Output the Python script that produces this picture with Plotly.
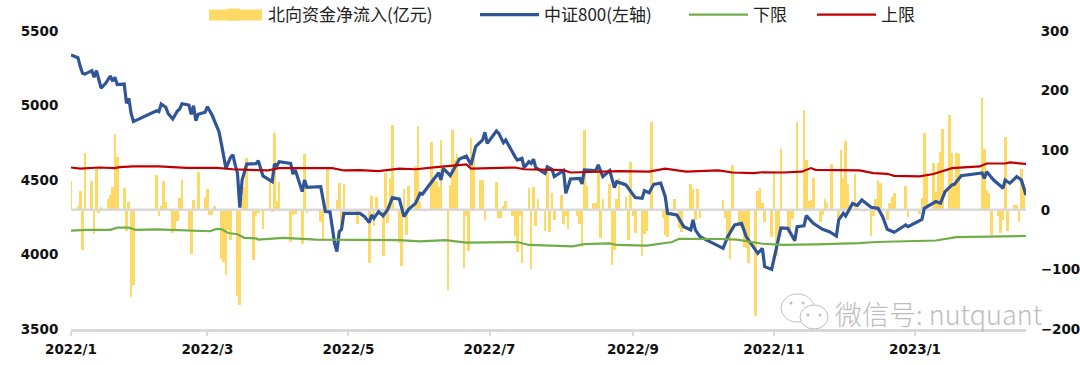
import pandas as pd
import plotly.graph_objects as go

START = pd.Timestamp("2022-01-04")
END = pd.Timestamp("2023-02-21")

flow_days = [0,3,4,5,6,9,10,11,12,13,16,17,18,19,20,23,24,25,26,27,37,38,39,40,41,44,45,46,47,48,51,52,53,55,58,59,60,61,62,65,66,67,68,69,72,73,74,75,76,79,80,81,83,86,87,88,89,90,95,96,97,100,101,102,108,109,111,115,116,117,118,124,129,130,131,132,135,136,137,138,139,142,143,144,145,146,149,150,151,156,157,158,159,160,163,164,165,166,167,170,171,172,173,174,177,178,179,184,185,186,187,188,191,192,193,194,195,198,199,200,201,202,205,206,207,208,209,212,213,214,215,219,220,221,222,223,226,227,228,229,230,233,234,235,236,237,240,241,242,243,244,247,248,249,251,256,257,258,261,263,264,268,269,270,271,272,282,283,284,285,286,289,290,291,292,293,296,297,298,299,300,303,304,305,306,307,310,311,312,314,317,318,319,320,321,324,325,326,327,329,332,333,334,335,336,339,340,343,346,347,348,349,350,353,354,355,356,361,362,367,368,369,370,373,374,375,376,377,380,381,382,383,384,394,395,396,397,398,401,402,403,404,405,408,409,410,411,412]
flow_vals = [48,6,32,-67,95,49,-41,69,-6,4,18,25,39,127,89,36,-35,13,-146,-126,58,-10,6,48,13,-39,-34,-18,20,50,-34,-74,16,64,21,35,-8,-8,7,-83,-87,-110,-34,-50,-144,-160,20,39,87,-84,-11,-5,-32,48,-4,129,14,46,-54,-8,-7,-58,93,-6,-20,-53,68,17,45,-34,44,-24,-89,24,-28,22,-78,62,-22,53,143,-56,-95,35,-42,40,73,140,14,114,50,48,38,117,-135,42,134,84,93,-97,-11,-69,121,95,50,50,-17,46,-14,-14,7,14,-11,-44,-70,-11,-89,36,-100,38,-28,18,-35,64,-38,28,-17,25,-24,-11,-32,-11,-23,-63,134,40,11,11,67,-47,18,44,-92,-67,18,53,22,-50,80,-10,-39,-77,-40,-36,148,-14,-42,-46,18,-31,-38,44,35,-17,35,-14,17,-14,-48,-83,75,-28,-30,-62,-64,-89,-179,31,36,11,-21,-45,62,-78,-50,102,-39,-39,-15,148,168,83,14,17,53,-21,-8,18,11,77,-14,100,53,116,44,60,3,-4,-44,-11,18,50,45,-17,12,21,29,40,-12,-7,20,129,62,78,30,78,97,135,159,95,40,95,94,187,102,34,28,-43,-11,-39,-17,122,-35,8,8,-20,69,42]

close_days = [0,2,3,4,5,6,8,9,10,11,12,13,15,17,18,19,20,23,24,25,26,27,37,38,39,41,42,44,46,47,48,51,52,53,54,55,58,59,61,64,65,67,69,70,71,72,73,74,76,80,81,83,87,88,89,90,95,96,97,100,101,102,108,110,112,114,115,116,117,118,125,127,129,130,131,133,135,137,139,142,144,146,149,151,152,156,159,160,161,164,167,168,171,173,175,178,179,180,184,185,187,188,192,193,195,196,198,199,200,201,205,206,208,209,213,214,216,220,221,222,227,228,230,233,235,236,240,244,247,248,250,252,255,257,258,262,265,268,269,270,272,280,282,284,287,290,292,294,297,299,300,303,307,310,313,314,317,318,321,325,328,331,332,334,335,338,340,342,346,349,351,353,356,361,362,368,369,374,376,378,381,382,385,394,395,396,399,402,403,404,406,409,411,413]
close_vals = [5339,5328,5321,5261,5216,5211,5229,5234,5189,5234,5176,5117,5149,5198,5164,5189,5140,5144,5015,5048,4947,4892,4965,4959,5010,4988,4947,4909,4963,4977,5012,5003,4941,4999,4898,4941,4955,4992,4936,4824,4746,4578,4652,4668,4601,4545,4314,4500,4607,4610,4630,4527,4489,4607,4594,4623,4612,4540,4567,4422,4500,4451,4455,4288,4286,4075,4019,4153,4169,4276,4276,4254,4214,4265,4243,4288,4259,4303,4382,4372,4254,4303,4343,4411,4406,4489,4549,4500,4578,4529,4612,4641,4661,4601,4724,4769,4820,4746,4829,4813,4751,4769,4657,4634,4645,4583,4623,4612,4639,4583,4545,4589,4572,4523,4563,4411,4507,4511,4473,4567,4563,4601,4523,4563,4449,4489,4467,4382,4377,4428,4415,4471,4480,4388,4276,4265,4187,4165,4232,4165,4120,4053,4041,4120,4198,4209,4120,4075,4008,4041,3918,3900,4178,4176,4093,4187,4192,4261,4209,4169,4153,4124,4232,4276,4259,4343,4328,4366,4317,4310,4254,4169,4149,4198,4187,4236,4310,4355,4344,4422,4467,4471,4529,4547,4511,4556,4500,4460,4444,4500,4478,4523,4500,4399]

upper_days = [0,4,12,19,21,27,38,50,63,70,85,90,113,118,125,133,142,149,158,171,173,192,196,213,216,226,237,250,257,266,280,286,295,299,308,316,320,322,331,334,341,347,353,356,367,373,381,393,396,404,406,413]
upper_vals = [71,69,71,70,71.6,72.7,72.7,70.5,70.5,68,66,70,70,66,66.5,65,69,68,71.6,76,69,71,68,66.5,62.6,64,65,64,69,64,66,62.6,61.5,63,62.6,64,70,67,67,66,66,61.5,60.4,57,56,60,70,72.7,77.7,77.7,79.4,77]

lower_days = [0,7,17,20,25,28,37,49,60,63,65,68,72,75,80,81,92,106,125,142,151,162,171,193,198,217,222,233,236,249,260,263,280,288,299,308,322,341,348,374,383,413]
lower_vals = [-35,-33.6,-33.6,-30,-30,-33.6,-33,-35,-36,-32,-32.4,-39,-41,-47,-48,-50,-47,-50,-50,-51,-53,-51,-55,-54,-59,-61.5,-57.6,-56.5,-59,-60,-54,-48.7,-49,-50,-57,-59,-58,-56,-54,-51.5,-46,-44]

tick_dates = ["2022-01-04","2022-03-04","2022-05-04","2022-07-04","2022-09-04","2022-11-04","2023-01-04"]
tick_labels = ["2022/1","2022/3","2022/5","2022/7","2022/9","2022/11","2023/1"]

NAMES = ["北向资金净流入(亿元)", "中证800(左轴)", "下限", "上限"]
L, R, T, B = 71, 1026, 31, 329
W, H = 1080, 365
def px(x): return (x - L) / (R - L)
def py(y): return (B - y) / (B - T)
def dates(days): return [START + pd.Timedelta(days=int(d)) for d in days]

AXIS = dict(family="DejaVu Sans", size=13.5, color="#111111", weight="bold")
LEG = dict(family="Noto Sans CJK SC", size=17, color="#222222")
BAR = "#FFD966"; BLUE = "#2F5597"; RED = "#C00000"; GREEN = "#70AD47"; GRAY = "#D9D9D9"

fig = go.Figure()
fig.add_bar(x=dates(flow_days), y=flow_vals, width=86400000 * 1.15, name=NAMES[0], marker=dict(color=BAR, line_width=0),
            yaxis="y", legend="legend")
fig.add_scatter(x=[START, END], y=[0, 0], mode="lines", line=dict(color=GRAY, width=2.5), showlegend=False,
                hoverinfo="skip", yaxis="y")
fig.add_scatter(x=dates(close_days), y=close_vals, mode="lines", name=NAMES[1], line=dict(color=BLUE, width=3.2),
                yaxis="y2", legend="legend2")
fig.add_scatter(x=dates(lower_days), y=lower_vals, mode="lines", name=NAMES[2], line=dict(color=GREEN, width=2.2),
                yaxis="y3", legend="legend3")
fig.add_scatter(x=dates(upper_days), y=upper_vals, mode="lines", name=NAMES[3], line=dict(color=RED, width=2.2),
                yaxis="y3", legend="legend4")

def legend_at(x_px):
    return dict(x=px(x_px), xanchor="left", y=py(15), yanchor="middle", xref="paper", yref="paper",
                orientation="h", font=LEG, itemwidth=59, bgcolor="rgba(0,0,0,0)", borderwidth=0,
                itemclick=False, itemdoubleclick=False, traceorder="normal", tracegroupgap=0)

shapes = [dict(type="rect", xref="paper", yref="paper", x0=px(209), x1=px(262), y0=py(20.5), y1=py(9.5),
               fillcolor=BAR, line_width=0, layer="above")]
# watermark glyph (two speech bubbles)
def ellipse(x0, y0, x1, y1):
    return dict(type="circle", xref="paper", yref="paper", x0=px(x0), x1=px(x1), y0=py(y1), y1=py(y0),
                line=dict(color="#BFBFBF", width=1), fillcolor="white", layer="above")
shapes += [ellipse(781, 294, 814, 322), ellipse(800, 305, 828, 329)]
for cx, cy in [(791, 303), (803, 303), (808, 315), (820, 315)]:
    shapes.append(dict(type="circle", xref="paper", yref="paper", x0=px(cx-1.5), x1=px(cx+1.5), y0=py(cy+1.5), y1=py(cy-1.5),
                       fillcolor="#BFBFBF", line_width=0, layer="above"))

fig.update_layout(
    width=W, height=H, autosize=False, margin=dict(l=L, r=W - R, t=T, b=H - B, autoexpand=False),
    paper_bgcolor="white", plot_bgcolor="white", bargap=0, barmode="overlay", hovermode=False,
    xaxis=dict(type="date", range=[START, END], tickmode="array", tickvals=tick_dates, ticktext=tick_labels,
               tickfont=AXIS, ticks="outside", ticklen=4, tickcolor=GRAY, tickwidth=2, showgrid=False,
               showline=True, linecolor=GRAY, linewidth=2.5, zeroline=False, ticklabelstandoff=2, automargin=False),
    yaxis=dict(side="right", range=[-200, 300], tickvals=[-200, -100, 0, 100, 200, 300], tickfont=AXIS,
               showgrid=False, zeroline=False, showline=False, ticks="outside", ticklen=11, tickcolor="rgba(0,0,0,0)"),
    yaxis2=dict(side="left", overlaying="y", range=[3500, 5500], tickvals=[3500, 4000, 4500, 5000, 5500],
                tickfont=AXIS, showgrid=False, zeroline=False, showline=False, ticks="outside", ticklen=9,
                tickcolor="rgba(0,0,0,0)"),
    yaxis3=dict(overlaying="y", matches="y", visible=False),
    legend=legend_at(199), legend2=legend_at(475), legend3=legend_at(684), legend4=legend_at(812),
    shapes=shapes,
    annotations=[dict(text="微信号: nutquant", xref="paper", yref="paper", x=px(833), y=py(313), xanchor="left",
                      yanchor="middle", showarrow=False,
                      font=dict(family="Noto Sans CJK SC", size=27, color="#BDBDBD", weight=300))],
)

fig.write_html("out.html", config=dict(displayModeBar=False),
               post_script="document.body.style.margin='0';document.body.style.overflow='hidden';")
